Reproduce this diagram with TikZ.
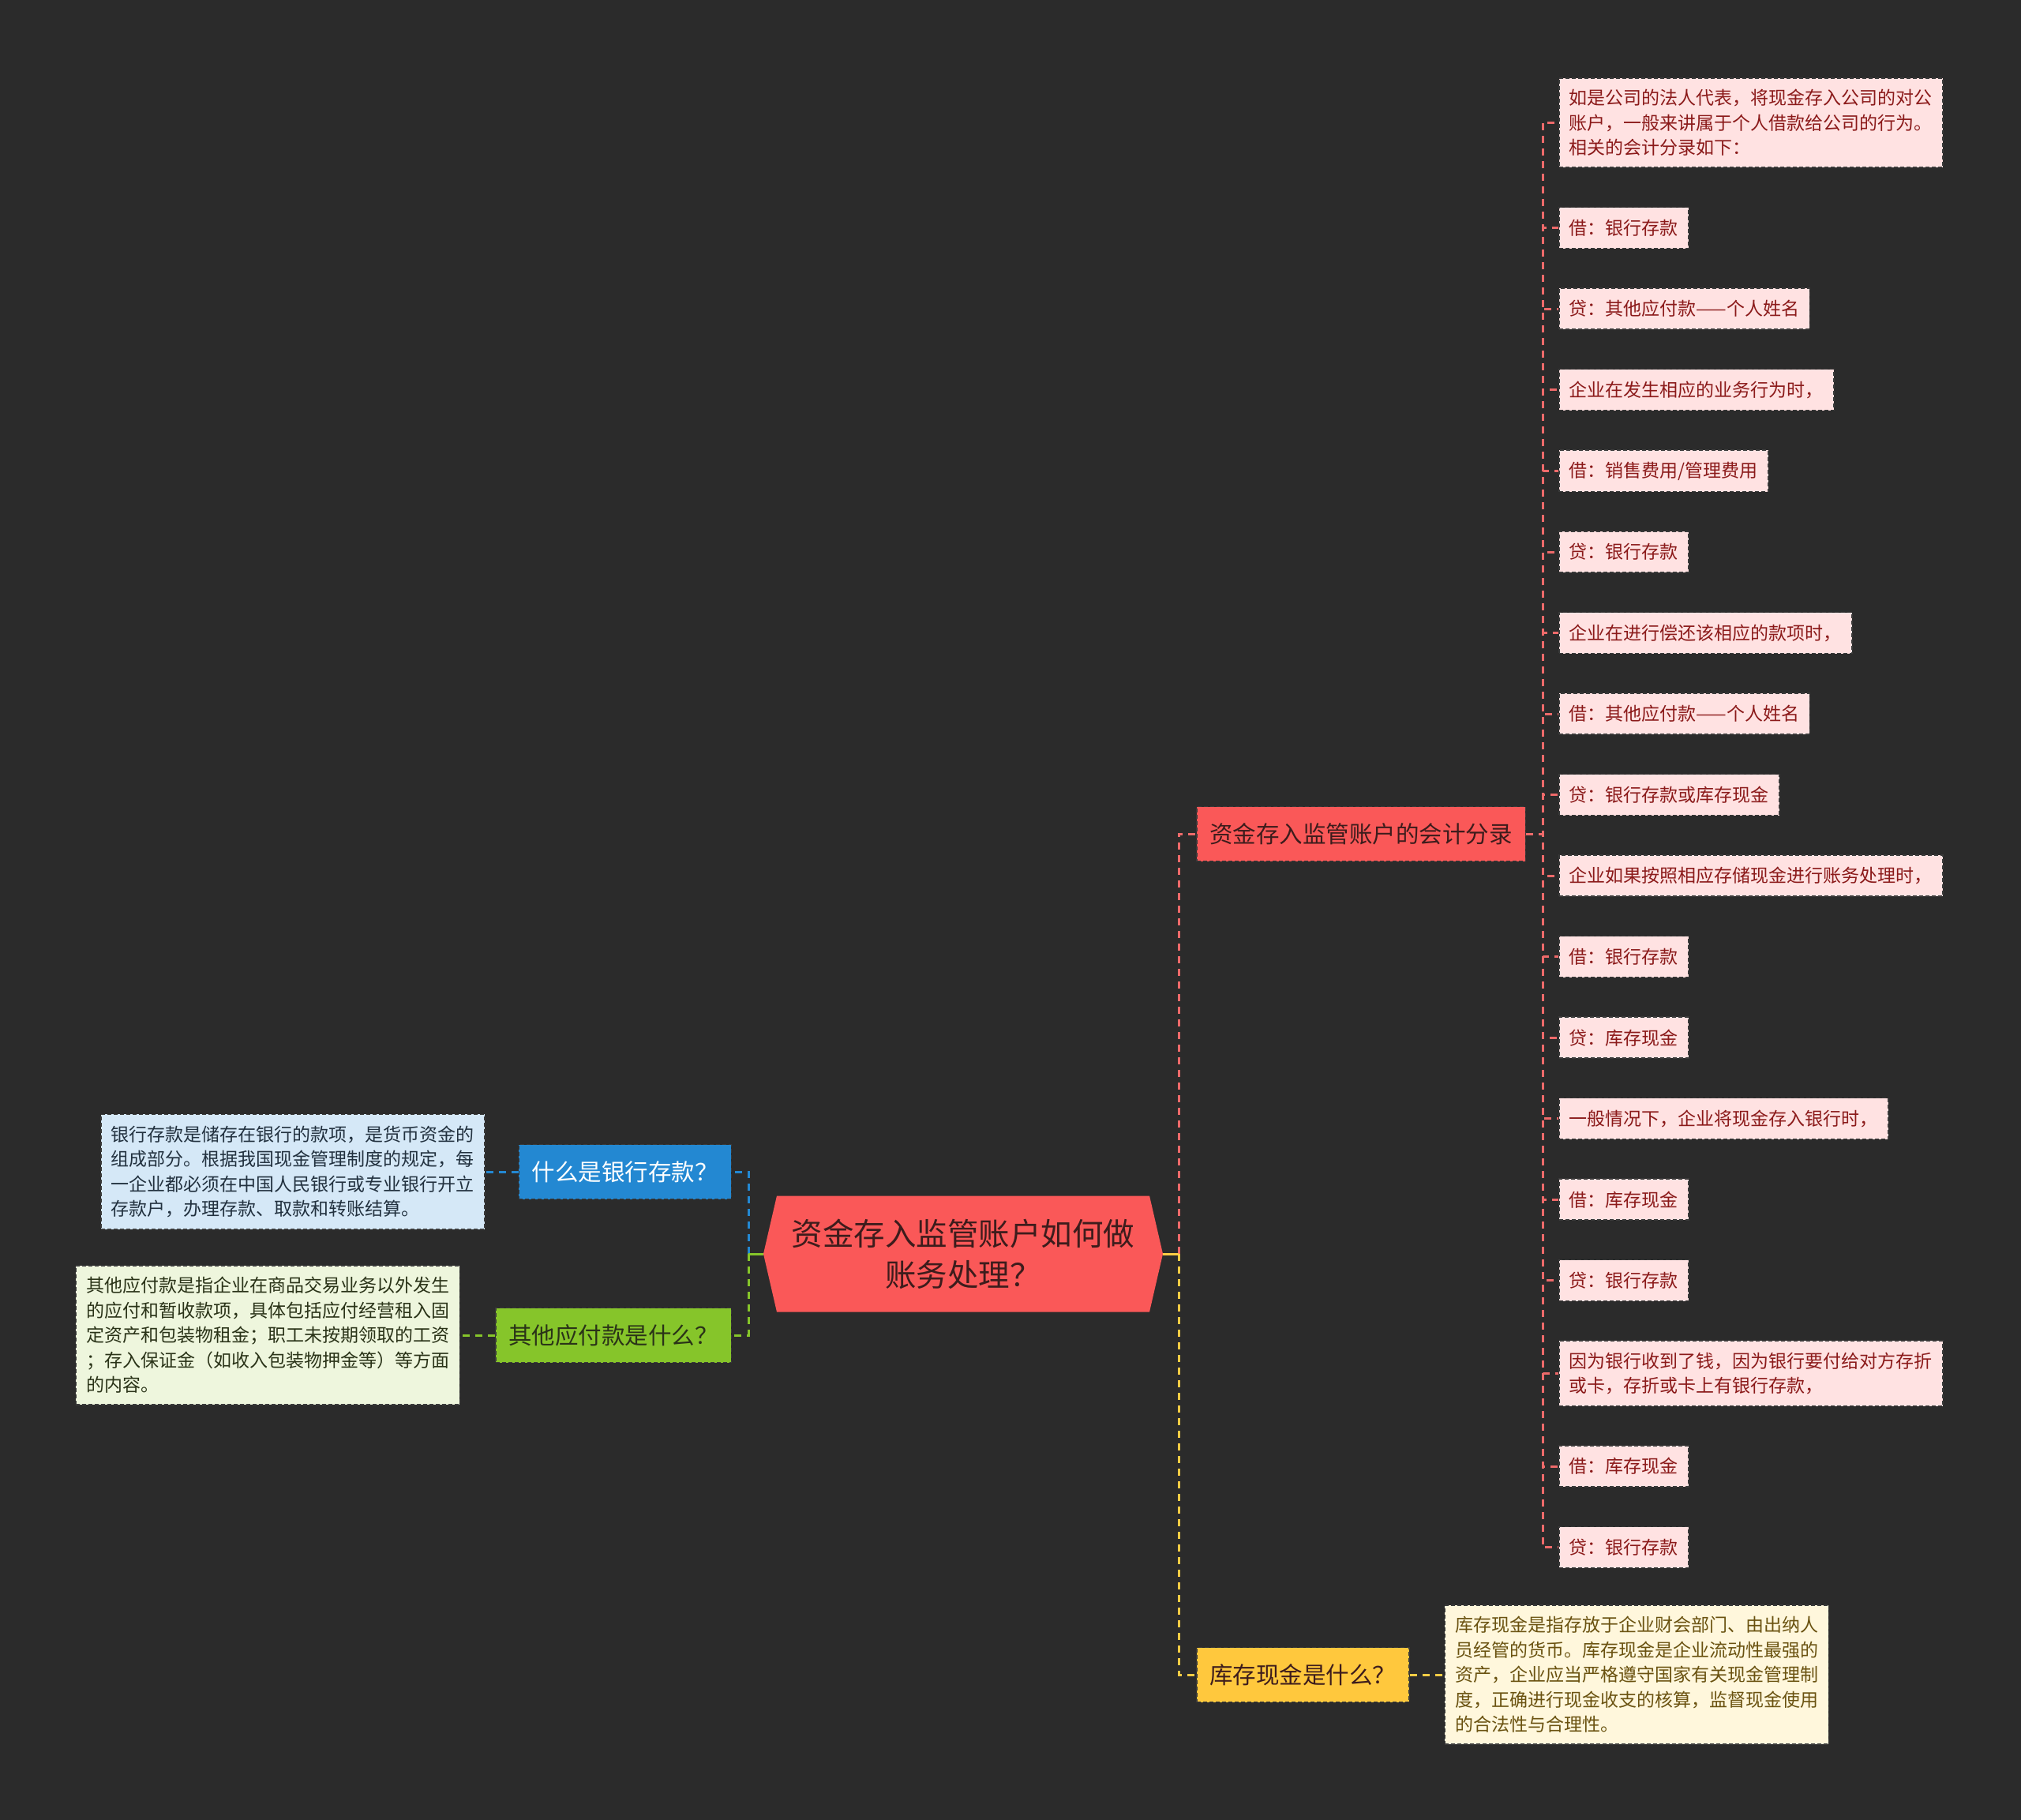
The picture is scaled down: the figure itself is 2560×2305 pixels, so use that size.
\documentclass[tikz,border=0pt]{standalone}
\usepackage{fontspec}
\setmainfont{Noto Sans CJK SC}
\usetikzlibrary{positioning}
\usetikzlibrary{shapes.symbols}
\definecolor{bg}{HTML}{2B2B2B}
\definecolor{edge}{HTML}{3A3A3A}
\definecolor{rootred}{HTML}{FA5858}
\definecolor{roottext}{HTML}{3D1C1C}
\definecolor{pinkfill}{HTML}{FFE2E2}
\definecolor{pinktext}{HTML}{8B1A1A}
\definecolor{acctline}{HTML}{EE6A6A}
\definecolor{bankblue}{HTML}{2388D2}
\definecolor{bankfill}{HTML}{D5E8F7}
\definecolor{banktext}{HTML}{22313F}
\definecolor{othergreen}{HTML}{86C52A}
\definecolor{otherfill}{HTML}{EEF6DD}
\definecolor{othertext}{HTML}{2A3318}
\definecolor{cashyellow}{HTML}{FFC83D}
\definecolor{cashfill}{HTML}{FFF7DC}
\definecolor{cashtext}{HTML}{6A5210}
\definecolor{cashline}{HTML}{FFCC44}
\tikzset{
	rootnode/.style={signal, signal to=west and east, signal pointer angle=154,
		fill=rootred, text=roottext, align=center, inner sep=0pt,
		minimum width=506pt, minimum height=147pt,
		font=\fontsize{39.5}{52}\selectfont},
	branch/.style={rectangle, draw=edge, dash pattern=on 5pt off 3pt, line width=1.5pt,
		inner xsep=16.5pt, inner ysep=0pt, minimum height=69pt,
		font=\fontsize{29.5}{36}\selectfont},
	leaf/.style={rectangle, draw=edge, dash pattern=on 5pt off 3pt, line width=1.5pt,
		inner xsep=13pt, inner ysep=14.5pt, minimum height=52pt, align=left,
		font=\fontsize{23}{31.5}\selectfont},
	entry/.style={leaf, fill=pinkfill, text=pinktext},
	link/.style={line width=3pt, dash pattern=on 9pt off 7pt},
	stem/.style={line width=3pt}
}

\begin{document}
\begin{tikzpicture}[x=1pt, y=1pt]

\fill[bg] (0,0) rectangle (2560,-2305);
\useasboundingbox (0,0) rectangle (2560,-2305);

\node[rootnode] (root) at (1220,-1588)
	{资金存入监管账户如何做\\账务处理？};

\node[branch, fill=rootred, text=roottext, anchor=west] (acct) at (1515,-1056)
	{资金存入监管账户的会计分录};
\node[branch, fill=bankblue, text=white, anchor=east] (bank) at (927,-1484)
	{什么是银行存款？};
\node[branch, fill=othergreen, text=othertext, anchor=east] (other) at (927,-1691)
	{其他应付款是什么？};
\node[branch, fill=cashyellow, text=roottext, anchor=west] (cash) at (1515,-2121)
	{库存现金是什么？};

\node[leaf, fill=bankfill, text=banktext, left=42pt of bank] (bankdesc)
	{银行存款是储存在银行的款项，是货币资金的\\组成部分。根据我国现金管理制度的规定，每\\一企业都必须在中国人民银行或专业银行开立\\存款户，办理存款、取款和转账结算。};
\node[leaf, fill=otherfill, text=othertext, left=44pt of other] (otherdesc)
	{其他应付款是指企业在商品交易业务以外发生\\的应付和暂收款项，具体包括应付经营租入固\\定资产和包装物租金；职工未按期领取的工资\\；存入保证金（如收入包装物押金等）等方面\\的内容。};
\node[leaf, fill=cashfill, text=cashtext, right=44pt of cash] (cashdesc)
	{库存现金是指存放于企业财会部门、由出纳人\\员经管的货币。库存现金是企业流动性最强的\\资产，企业应当严格遵守国家有关现金管理制\\度，正确进行现金收支的核算，监督现金使用\\的合法性与合理性。};

% entries under the accounting branch
\node[entry, anchor=north west] (e1) at (1974,-98)
	{如是公司的法人代表，将现金存入公司的对公\\账户，一般来讲属于个人借款给公司的行为。\\相关的会计分录如下：};
\node[entry, below right=49pt and 0pt of e1.south west] (e2) {借：银行存款};
\node[entry, below right=49pt and 0pt of e2.south west] (e3) {贷：其他应付款——个人姓名};
\node[entry, below right=49pt and 0pt of e3.south west] (e4) {企业在发生相应的业务行为时，};
\node[entry, below right=49pt and 0pt of e4.south west] (e5) {借：销售费用/管理费用};
\node[entry, below right=49pt and 0pt of e5.south west] (e6) {贷：银行存款};
\node[entry, below right=49pt and 0pt of e6.south west] (e7) {企业在进行偿还该相应的款项时，};
\node[entry, below right=49pt and 0pt of e7.south west] (e8) {借：其他应付款——个人姓名};
\node[entry, below right=49pt and 0pt of e8.south west] (e9) {贷：银行存款或库存现金};
\node[entry, below right=49pt and 0pt of e9.south west] (e10) {企业如果按照相应存储现金进行账务处理时，};
\node[entry, below right=49pt and 0pt of e10.south west] (e11) {借：银行存款};
\node[entry, below right=49pt and 0pt of e11.south west] (e12) {贷：库存现金};
\node[entry, below right=49pt and 0pt of e12.south west] (e13) {一般情况下，企业将现金存入银行时，};
\node[entry, below right=49pt and 0pt of e13.south west] (e14) {借：库存现金};
\node[entry, below right=49pt and 0pt of e14.south west] (e15) {贷：银行存款};
\node[entry, below right=49pt and 0pt of e15.south west] (e16)
	{因为银行收到了钱，因为银行要付给对方存折\\或卡，存折或卡上有银行存款，};
\node[entry, below right=49pt and 0pt of e16.south west] (e17) {借：库存现金};
\node[entry, below right=49pt and 0pt of e17.south west] (e18) {贷：银行存款};

\coordinate (rfork) at (1493,-1588);
\coordinate (lfork) at (948,-1588);

\draw[link, acctline] (rfork) |- (acct.west);
\draw[link, cashline] (rfork) |- (cash.west);
\draw[stem, cashline] (root.east) -- (rfork);

\draw[link, bankblue] (lfork) |- (bank.east);
\draw[link, othergreen] (lfork) |- (other.east);
\draw[stem, othergreen] (root.west) -- (lfork);

\foreach \n in {1,...,18}
	\draw[link, acctline] (acct.east) -- ++(21,0) |- (e\n.west);

\draw[link, bankblue] (bank.west) -- (bankdesc.east);
\draw[link, othergreen] (other.west) -- (otherdesc.east);
\draw[link, cashline] (cash.east) -- (cashdesc.west);

\end{tikzpicture}
\end{document}
